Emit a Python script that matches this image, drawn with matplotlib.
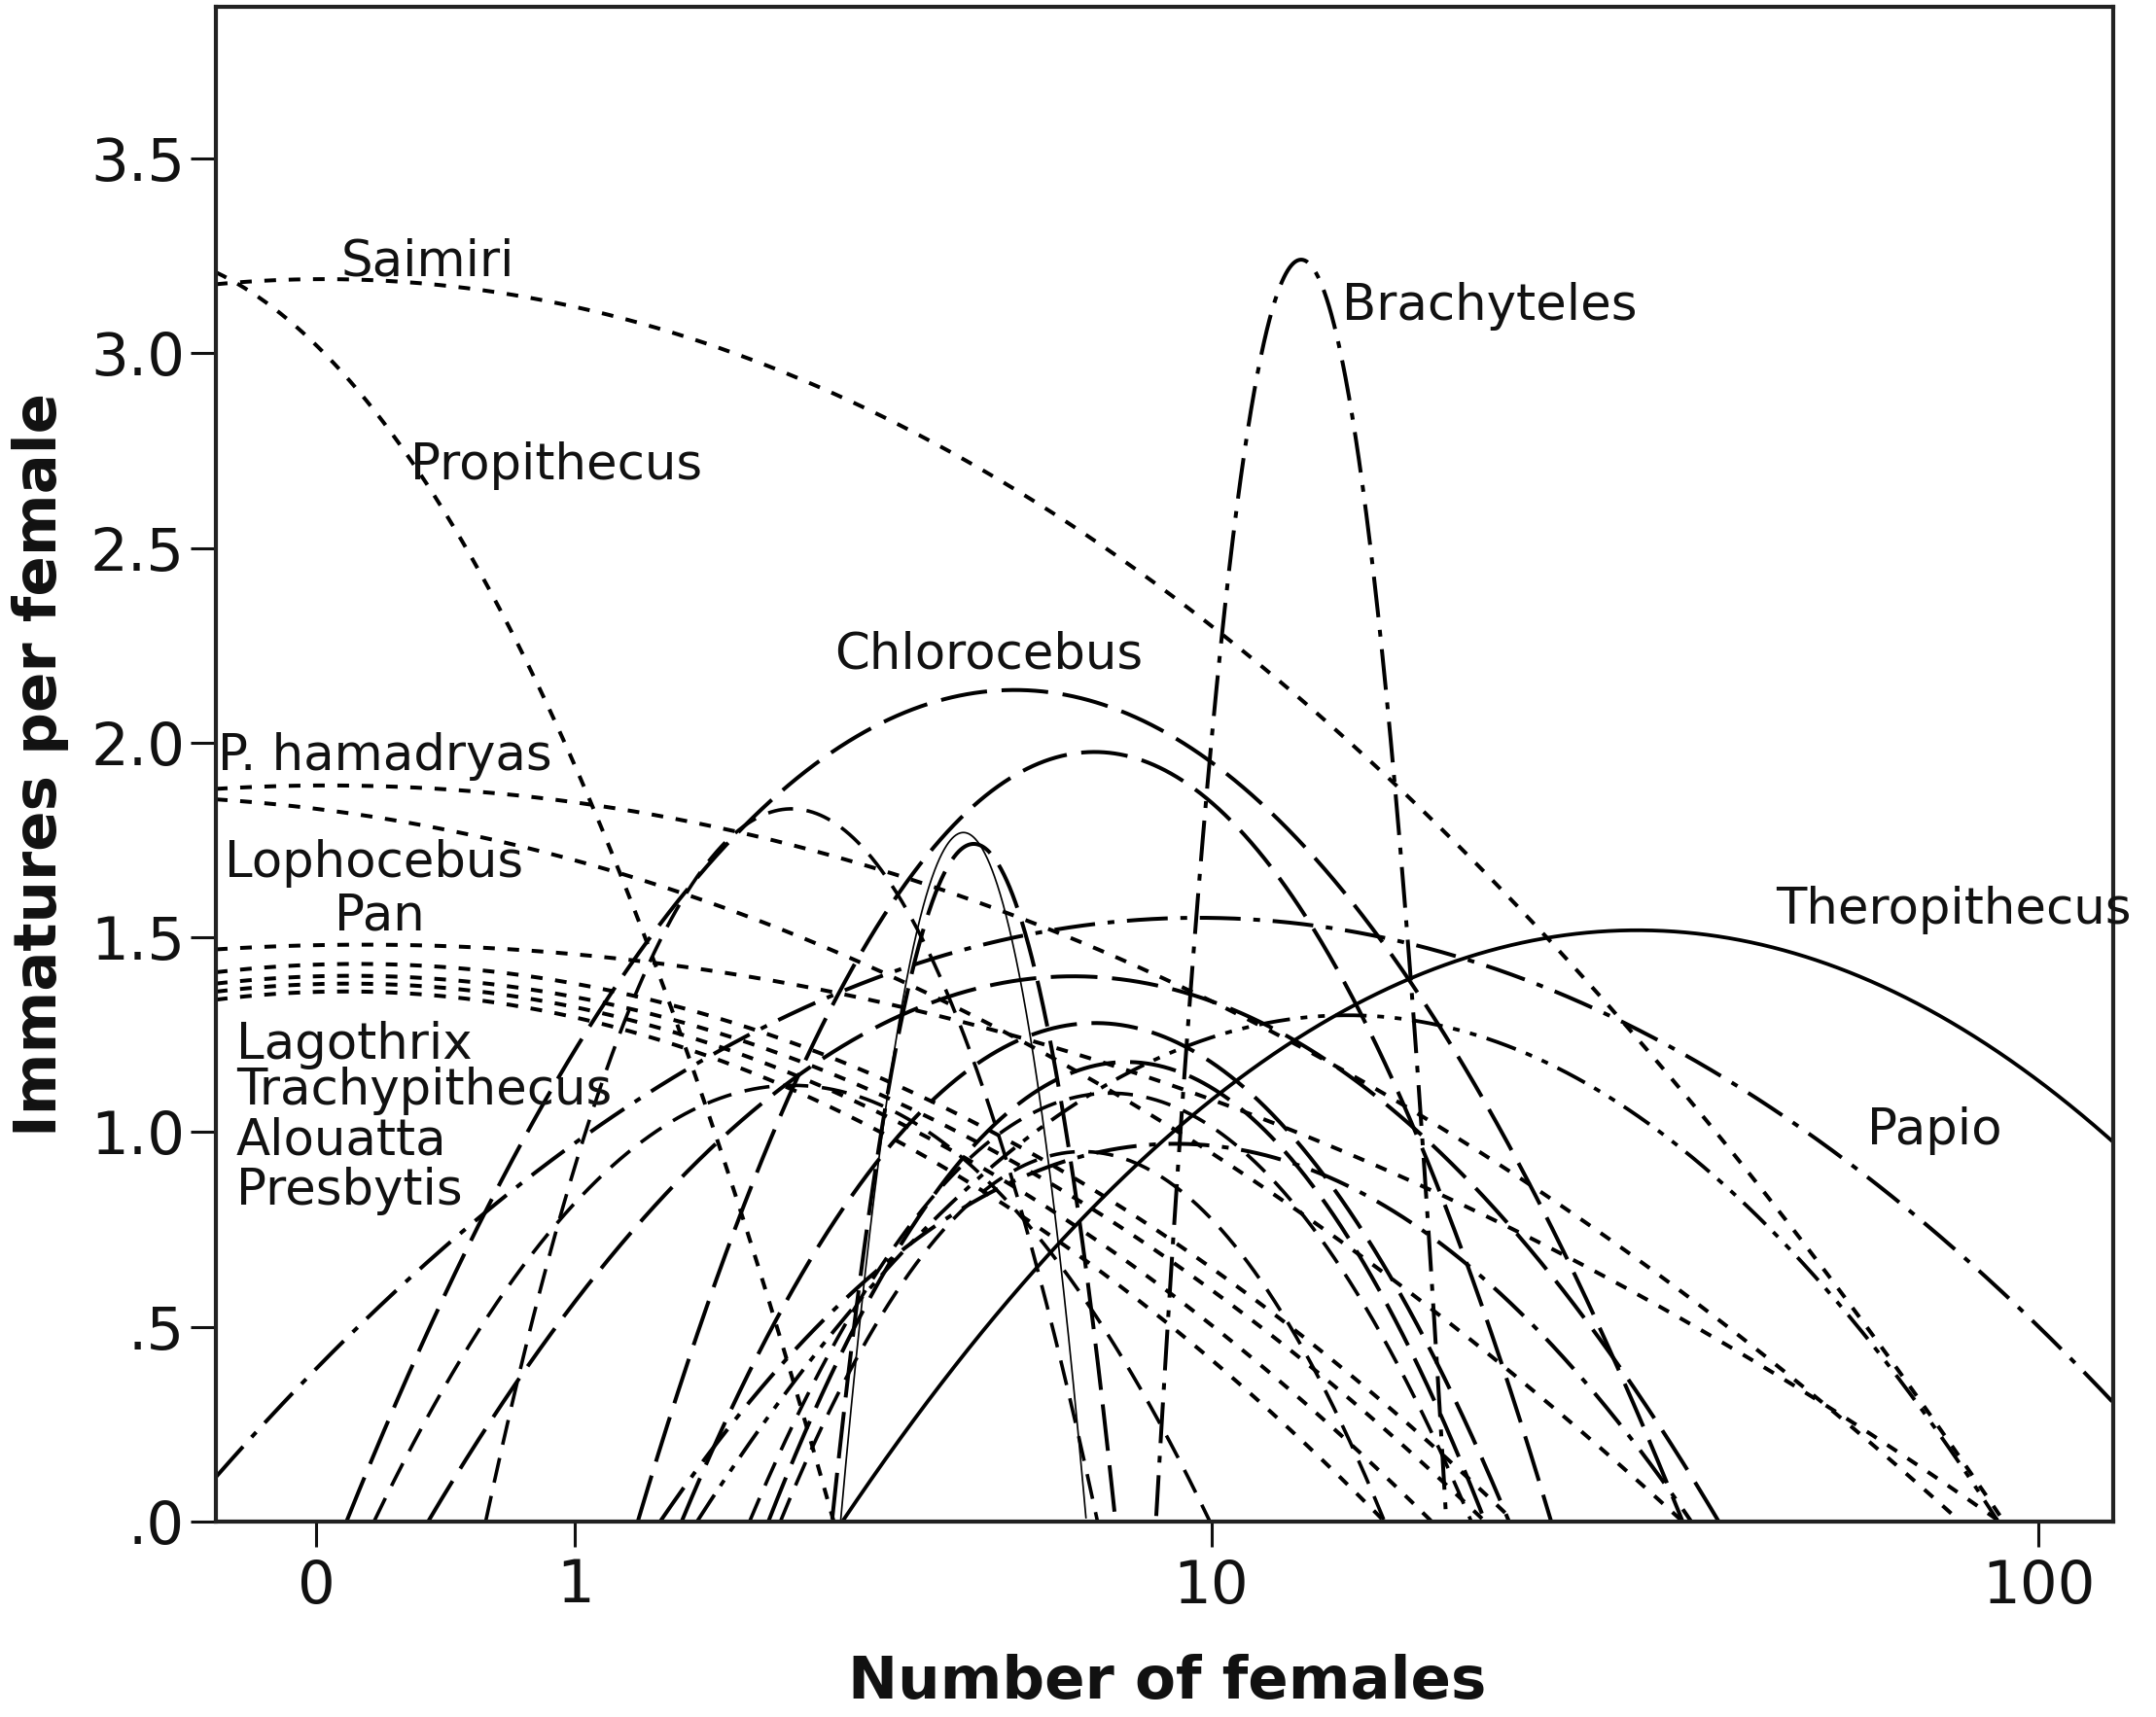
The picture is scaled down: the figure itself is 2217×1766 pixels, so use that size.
import numpy as np
import matplotlib
matplotlib.use("Agg")
import matplotlib.pyplot as plt

# ---------------- data ----------------
# each fitted curve is given by three points (number of females, immatures per female)
curve_ids = [
    "Saimiri", "Propithecus", "P. hamadryas", "Lophocebus", "Pan",
    "Lagothrix", "Trachypithecus", "Alouatta", "Presbytis",
    "Papio", "Brachyteles", "dashdot_b", "dashdotdot_a",
    "Chlorocebus", "longdash_198", "longdash_140", "longdash_128",
    "longdash_118", "longdash_narrow", "thin_narrow", "Theropithecus",
    "dash_183", "dash_112", "dash_110", "dash_095",
]
anchor_females = [
    [0, 10, 91.0],
    [0, 1, 3.0],
    [0, 9, 80.85],
    [0, 2.573, 37.9],
    [0, 2.981, 90.0],
    [0, 2.573, 23.77],
    [0, 2.573, 21.91],
    [0, 2.573, 18.86],
    [0, 2.573, 16.5],
    [0, 10, 100],
    [8.484, 12.996, 19.65],
    [1.512, 9.0, 38.81],
    [1.773, 14.85, 89.6],
    [0.084, 5.397, 37.9],
    [1.366, 7.035, 26.35],
    [0.349, 6.603, 41.85],
    [1.661, 7.064, 23.43],
    [2.357, 7.770, 21.91],
    [2.981, 4.821, 7.511],
    [3.074, 4.754, 6.870],
    [3.093, 37.02, 120.06],
    [0.574, 2.573, 7.11],
    [0.167, 2.55, 9.96],
    [2.192, 7.395, 21.08],
    [2.467, 6.762, 16.5],
]
anchor_immatures = [
    [3.19, 2.30, 0.0],
    [3.02, 1.94, 0.0],
    [1.89, 1.38, 0.0],
    [1.83, 1.51, 0.0],
    [1.48, 1.36, 0.0],
    [1.43, 1.23, 0.0],
    [1.40, 1.19, 0.0],
    [1.38, 1.15, 0.0],
    [1.36, 1.11, 0.0],
    [0.393, 1.55, 0.50],
    [0.0, 3.24, 0.0],
    [0.0, 0.97, 0.0],
    [0.0, 1.30, 0.0],
    [0.0, 2.135, 0.0],
    [0.0, 1.976, 0.0],
    [0.0, 1.40, 0.0],
    [0.0, 1.28, 0.0],
    [0.0, 1.18, 0.0],
    [0.0, 1.74, 0.0],
    [0.0, 1.765, 0.0],
    [0.0, 1.515, 0.99],
    [0.0, 1.83, 0.0],
    [0.0, 1.12, 0.0],
    [0.0, 1.10, 0.0],
    [0.0, 0.95, 0.0],
]
curve_kind = [
    "dot", "dot", "dot", "dot", "dot", "dot", "dot", "dot", "dot",
    "dashdot", "dashdot", "dashdot", "dashdotdot",
    "longdash", "longdash", "longdash", "longdash", "longdash", "longdash",
    "thin", "solid",
    "dash", "dash", "dash", "dash",
]

x_ticks = [0, 1, 10, 100]
x_tick_labels = ["0", "1", "10", "100"]
y_ticks = [0.0, 0.5, 1.0, 1.5, 2.0, 2.5, 3.0, 3.5]
y_tick_labels = [".0", ".5", "1.0", "1.5", "2.0", "2.5", "3.0", "3.5"]

species_labels = ["Saimiri", "Brachyteles", "Propithecus", "Chlorocebus",
                  "P. hamadryas", "Lophocebus", "Pan", "Theropithecus",
                  "Lagothrix", "Trachypithecus", "Alouatta", "Presbytis", "Papio"]
label_females = [0.069, 14.63, 0.285, 3.006, -0.233, -0.218, 0.049, 49.0,
                 -0.193, -0.193, -0.193, -0.193, 62.7]
label_immatures = [3.235, 3.12, 2.71, 2.225, 1.965, 1.69, 1.555, 1.57,
                   1.222, 1.105, 0.978, 0.848, 1.003]

x_label = "Number of females"
y_label = "Immatures per female"

# ---------------- drawing ----------------
plt.rcParams["font.family"] = ["DejaVu Sans"]
plt.rcParams["lines.scale_dashes"] = False

PX = 0.72  # points per pixel at dpi 100
styles = {
    "dot":        dict(lw=4.0 * PX, ls=(0, (12 * PX, 13 * PX))),
    "dash":       dict(lw=3.6 * PX, ls=(0, (26 * PX, 14 * PX))),
    "longdash":   dict(lw=4.0 * PX, ls=(0, (48 * PX, 15 * PX))),
    "dashdot":    dict(lw=4.0 * PX, ls=(0, (42 * PX, 13 * PX, 7 * PX, 13 * PX))),
    "dashdotdot": dict(lw=3.8 * PX, ls=(0, (32 * PX, 11 * PX, 7 * PX, 11 * PX, 7 * PX, 11 * PX))),
    "solid":      dict(lw=3.8 * PX, ls="-"),
    "thin":       dict(lw=1.7 * PX, ls="-"),
}


def fwd(x):
    return np.log10(np.maximum(np.asarray(x, dtype=float) + 1.0, 1e-12))


def inv(t):
    return 10.0 ** np.asarray(t, dtype=float) - 1.0


fig = plt.figure(figsize=(22.17, 17.66), dpi=100)
ax = fig.add_axes([222 / 2217, 1 - 1565 / 1766, (2173 - 222) / 2217, (1565 - 6.7) / 1766])
ax.set_xscale("function", functions=(fwd, inv))
x_min, x_max = -0.236, 122.3
ax.set_xlim(x_min, x_max)
ax.set_ylim(0, 3.89)

grid_t = np.linspace(fwd(x_min), fwd(x_max), 4000)
for xs, ys, kind in zip(anchor_females, anchor_immatures, curve_kind):
    coef = np.polyfit(fwd(xs), ys, 2)
    yv = np.polyval(coef, grid_t)
    yv = np.where(yv >= 0, yv, np.nan)
    st = styles[kind]
    ax.plot(inv(grid_t), yv, color="black", lw=st["lw"], linestyle=st["ls"],
            solid_capstyle="butt", dash_capstyle="butt")

for txt, lx, ly in zip(species_labels, label_females, label_immatures):
    ax.text(lx, ly, txt, fontsize=37, ha="left", va="center", color="#111111")

ax.set_xticks(x_ticks)
ax.set_xticklabels(x_tick_labels)
ax.set_yticks(y_ticks)
ax.set_yticklabels(y_tick_labels)
ax.minorticks_off()
ax.tick_params(axis="both", direction="out", length=19, width=2.2, labelsize=44,
               color="#111111", labelcolor="#111111")
ax.tick_params(axis="x", pad=8)
ax.tick_params(axis="y", pad=4)
for sp in ax.spines.values():
    sp.set_linewidth(3.0)
    sp.set_color("#222222")

fig.text(1200 / 2217, 1 - 1730 / 1766, x_label, fontsize=44, fontweight="bold",
         ha="center", va="center", color="#111111")
fig.text(42 / 2217, 1 - 786 / 1766, y_label, fontsize=44, fontweight="bold",
         ha="center", va="center", rotation=90, color="#111111")

fig.savefig("out.png", dpi=100, facecolor="white")
